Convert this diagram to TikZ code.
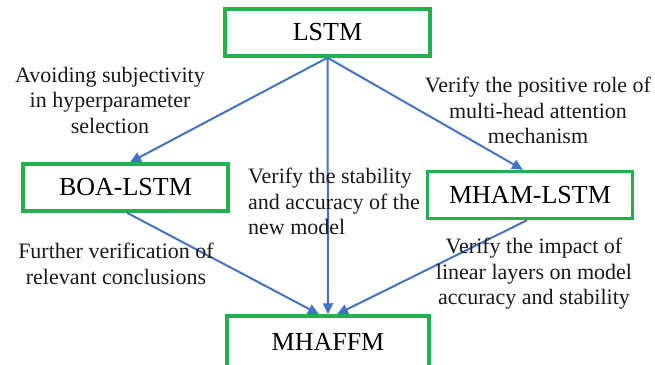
\documentclass[tikz,border=0pt]{standalone}
\usepackage{fontspec}
\setmainfont{Liberation Serif}
\usetikzlibrary{arrows.meta}
\definecolor{boxgreen}{RGB}{34,177,76}
\definecolor{arrowblue}{RGB}{68,114,196}
\begin{document}
\begin{tikzpicture}[x=1pt,y=-1pt,
  modelbox/.style={draw=boxgreen,line width=3.5pt,fill=white,inner sep=0pt,
    minimum width=205pt,minimum height=47pt,font=\rmfamily\fontsize{26}{30}\selectfont},
  flow/.style={draw=arrowblue,line width=2pt,
    -{Triangle[length=11pt,width=10pt]}},
  note/.style={inner sep=0pt,font=\rmfamily\fontsize{22}{25.5}\selectfont,text=black!90}]
\useasboundingbox (0,0) rectangle (655,364);

% model boxes
\node[modelbox] (lstm)   at (327.5,32.5) {LSTM};
\node[modelbox] (boa)    at (125.5,187.5) {BOA-LSTM};
\node[modelbox] (mham)   at (530,195) {MHAM-LSTM};
\node[modelbox,minimum width=202pt,minimum height=52pt] (mhaffm) at (328,342) {MHAFFM};

% connectors
\draw[flow] (lstm.south) -- ([xshift=4.5pt]boa.north);
\draw[flow] (lstm.south) -- (mhaffm.north);
\draw[flow] (lstm.south) -- ([xshift=-7pt]mham.north);
\draw[flow] ([xshift=1.5pt]boa.south) -- ([xshift=-9pt]mhaffm.north);
\draw[flow] ([xshift=-3pt]mham.south) -- ([xshift=9pt]mhaffm.north);

% annotations
\node[note,anchor=north,align=center] (n1) at (110,67)
  {Avoiding subjectivity\\in hyperparameter\\selection};
\node[note,anchor=north,align=center] (n2) at (538,77)
  {Verify the positive role of\\multi-head attention\\mechanism};
\node[note,anchor=north west,align=left] (n3) at (248,168)
  {Verify the stability\\and accuracy of the\\new model};
\node[note,anchor=north,align=center] (n4) at (116,243)
  {Further verification of\\relevant conclusions};
\node[note,anchor=north,align=center] (n5) at (534,238)
  {Verify the impact of\\linear layers on model\\accuracy and stability};
\end{tikzpicture}
\end{document}
